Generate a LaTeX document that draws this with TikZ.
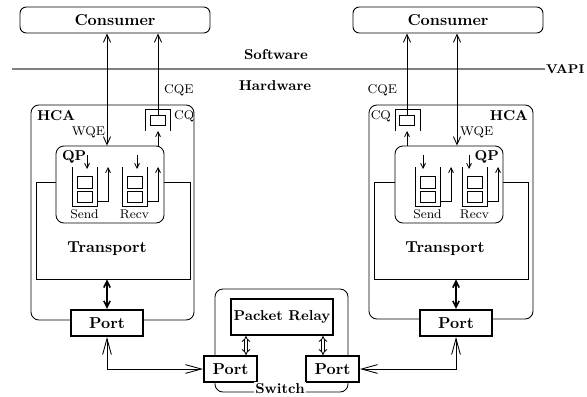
\documentclass[tikz,border=0pt]{standalone}
\usetikzlibrary{arrows.meta}
\def\px{0.63pt}
\begin{document}
\begin{tikzpicture}[x=\px,y=-\px,line width=0.55pt,
				cons/.style={draw,rounded corners=4pt,minimum width=190*\px,minimum height=26*\px,font=\bfseries},
				hca/.style={draw,rounded corners=5pt,inner sep=0pt},
				layer/.style={draw,minimum width=154*\px,minimum height=97*\px,inner sep=0pt},
				qp/.style={draw,fill=white,rounded corners=5pt,minimum width=108*\px,minimum height=77*\px,inner sep=0pt},
				portbox/.style={draw,fill=white,line width=1.3pt,minimum width=72*\px,minimum height=26*\px,inner sep=1pt,font=\bfseries},
				relaybox/.style={draw,fill=white,line width=1.3pt,minimum width=102*\px,minimum height=36*\px,inner sep=0pt,font=\small\bfseries},
				slot/.style={draw,minimum width=15*\px,minimum height=10*\px,inner sep=0pt},
				lab/.style={font=\small\bfseries,inner sep=1pt},
				note/.style={font=\footnotesize,inner sep=1pt},
				labr/.style={note,anchor=west},
				labl/.style={note,anchor=east},
				toapp/.style={-{Straight Barb[length=5pt,width=4.5pt]}},
				twoway/.style={{Straight Barb[length=5pt,width=4.5pt]}-{Straight Barb[length=5pt,width=4.5pt]}},
				wire/.style={{Straight Barb[length=10pt,width=5.5pt]}-{Straight Barb[length=10pt,width=5.5pt]}},
				qflow/.style={-{Straight Barb[length=3pt,width=3pt]}},
				fat/.style={line width=1pt,{Straight Barb[length=4pt,width=4pt]}-{Straight Barb[length=4pt,width=4pt]}},
				relayflow/.style={double,double distance=1.3pt,{Implies}-{Implies}}]
				\useasboundingbox (0,0) rectangle (587,396);
				% consumers and the VAPI split
				\node [cons]		(consL)		at (115,20)		{Consumer};
				\node [cons]		(consR)		at (448,20)		{Consumer};
				\coordinate (apiL) at (12,69);
				\node [lab,font=\footnotesize\bfseries,inner sep=0.5pt,anchor=west]	(vapi)	at (545,69)	{VAPI};
				\draw [gray,line width=0.8pt] (apiL) -- (vapi.west);
				\node [lab]		(sw)		at (276,55)		{Software};
				\node [lab]		(hw)		at (275,86)		{Hardware};
				% left HCA
				\node [hca,minimum width=163*\px,minimum height=215*\px]	(hcaL)	at (112.5,212.5)	{};
					\node [lab,anchor=west] at (35,116)	{HCA};
				\node [layer]		(trL)		at (113,230.5)		{};
					\node [font=\bfseries] at (107,249)	{Transport};
				\node [qp]		(qpL)		at (110,184.5)		{};
					\node [lab,anchor=west] at (60,157)	{QP};
				\draw (145,131) -- (145,109) -- (170,109) -- (170,131);
				\node [slot]		(cqLslot)	at (158,120)		{};
				\coordinate (cqLin) at (158,131);
					\node [labr] at (162,90)	{CQE};
					\node [labr] at (172,116)	{CQ};
					\node [labl] at (107,132)	{WQE};
				% right HCA
				\node [hca,minimum width=164*\px,minimum height=214*\px]	(hcaR)	at (451,212)	{};
					\node [lab,anchor=east] at (530,116)	{HCA};
				\node [layer]		(trR)		at (451,230.5)		{};
					\node [font=\bfseries] at (445,249)	{Transport};
				\node [qp]		(qpR)		at (449,184.5)		{};
					\node [lab,anchor=east] at (501,157)	{QP};
				\draw (395,131) -- (395,109) -- (420,109) -- (420,131);
				\node [slot]		(cqRslot)	at (407,120)		{};
				\coordinate (cqRin) at (407,131);
					\node [labl] at (399,90)	{CQE};
					\node [labl] at (393,116)	{CQ};
					\node [labr] at (458,132)	{WQE};
				% send and receive queues
				\foreach \qx/\qname/\qin in {72/Send/15,122/Recv/15,415/Send/8,462/Recv/7} {
					\draw (\qx,167) -- (\qx,206) -- (\qx+25,206) -- (\qx+25,167);
					\draw (\qx+5,176) rectangle (\qx+20,188);
					\draw (\qx+5,191) rectangle (\qx+20,202);
					\draw [qflow] (\qx+\qin,155) -- (\qx+\qin,169);
					\draw [qflow] (\qx+25,201) -- (\qx+36,201) -- (\qx+36,167);
					\node [note] at (\qx+12.5,214) {\qname};
				}
				% ports
				\node [portbox]		(portL)		at (107,323)		{Port};
				\node [portbox]		(portR)		at (456,323)		{Port};
				% switch
				\node [hca,minimum width=133*\px,minimum height=103*\px]	(switch)	at (281.5,340.5)	{};
				\node [relaybox]	(relay)		at (282,317)		{Packet Relay};
				\node [portbox,minimum width=53*\px]	(spL)	at (230.5,369)	{Port};
				\node [portbox,minimum width=53*\px]	(spR)	at (332.5,369)	{Port};
					\node [lab,fill=white] at (280,389)	{Switch};
				% connectors
				\draw [twoway] (consL.south -| 107,0) -- (qpL.north -| 107,0);
				\draw [toapp] (cqLslot.north) -- (consL.south -| cqLslot.north);
				\draw [qflow] (qpL.north -| cqLin) -- (cqLin);
				\draw [twoway] (consR.south -| 457,0) -- (qpR.north -| 457,0);
				\draw [toapp] (cqRslot.north) -- (consR.south -| cqRslot.north);
				\draw [qflow] (qpR.north -| cqRin) -- (cqRin);
				\draw [fat] (trL.south -| portL.north) -- (portL.north);
				\draw [fat] (trR.south -| portR.north) -- (portR.north);
				\draw [relayflow] (relay.south -| 246,0) -- (spL.north -| 246,0);
				\draw [relayflow] (relay.south -| 323,0) -- (spR.north -| 323,0);
				\draw [wire] (portL.south) |- (spL.west);
				\draw [wire] (portR.south) |- (spR.east);
			\end{tikzpicture}
\end{document}
